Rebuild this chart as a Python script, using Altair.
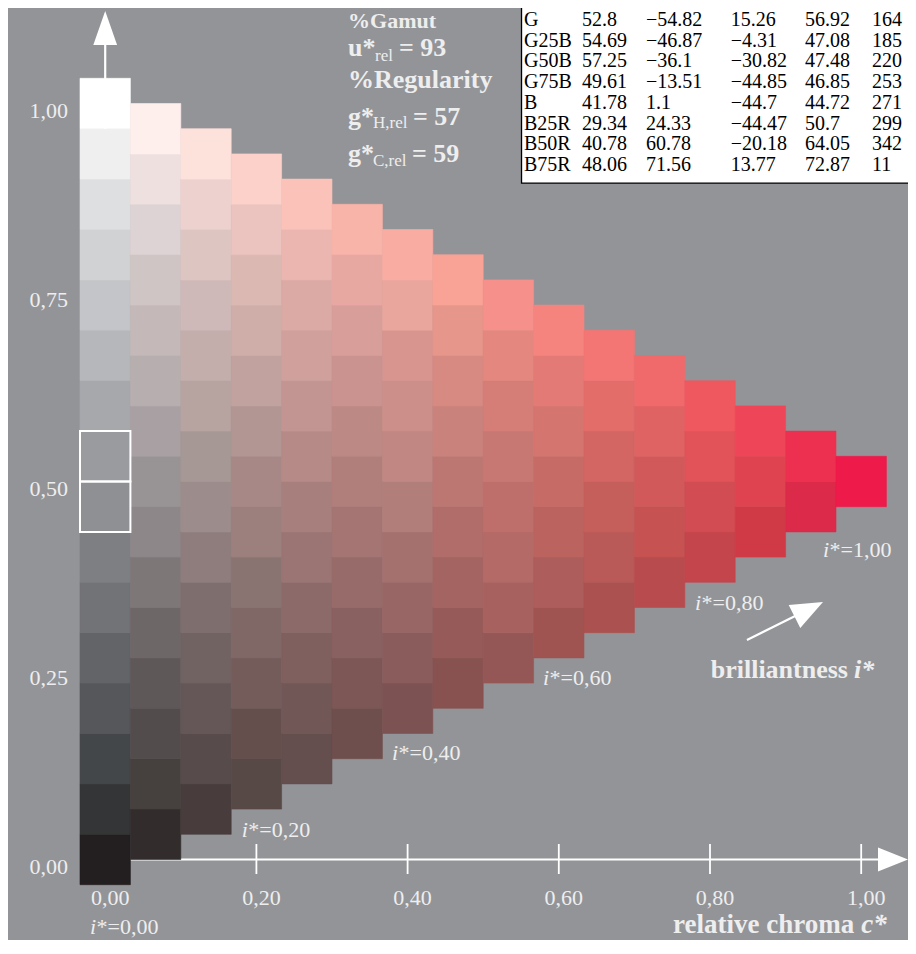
import altair as alt
import pandas as pd

# ---------------- values ----------------
# colour of every cell, one list per column j (relative chroma c* = j/15), bottom cell first
col00 = ["#231f20", "#343536", "#44474a", "#55575a", "#636468", "#727377", "#7e7f83", "#8f9094",
         "#9a9b9f", "#a7a8ac", "#b6b7ba", "#c4c5c8", "#d1d2d4", "#dedfe1", "#efefef", "#ffffff"]
col01 = ["#322c2d", "#46403f", "#534c4c", "#5f5859", "#6e6768", "#7d7778", "#8d8789", "#989394",
         "#a9a0a3", "#b6aeaf", "#c4b8b8", "#d0c5c5", "#ded3d4", "#efe0e0", "#feefec"]
col02 = ["#483c3c", "#574b4b", "#655757", "#726363", "#7f6e6e", "#8e7d7c", "#9c8d8c", "#a69895",
         "#b7a4a1", "#c3aeac", "#cfb9b8", "#ddc5c2", "#edd1ce", "#fde1db"]
col03 = ["#574946", "#654f4d", "#735c5a", "#7f6866", "#8a7472", "#9b807e", "#a88886", "#b29693",
         "#c1a29f", "#cfaeaa", "#dcb8b2", "#ebc3bf", "#fcd1c9"]
col04 = ["#654e4e", "#725757", "#7f605f", "#8c6a69", "#9a7573", "#a7807d", "#b58a87", "#c29592",
         "#cfa09c", "#dcaaa5", "#ebb6b0", "#fac2b9"]
col05 = ["#6f4e4e", "#7c5756", "#896160", "#976b69", "#a47573", "#b07e7b", "#bd8985", "#ca938f",
         "#d89e99", "#e8a8a2", "#f8b4a9"]
col06 = ["#7c5253", "#8a5c5c", "#986665", "#a5716e", "#b27e7a", "#c18782", "#cc8f89", "#d89590",
         "#e9a69c", "#f9ada2"]
col07 = ["#885250", "#965b59", "#a46462", "#b06d6a", "#bc7773", "#ca837c", "#d68a82", "#e6968a",
         "#f9a296"]
col08 = ["#955755", "#a76260", "#b46a67", "#be6f6b", "#c87873", "#d57d77", "#e4877e", "#f5918a"]
col09 = ["#a05452", "#ad5d5b", "#bb645f", "#c76b67", "#d57570", "#e47a75", "#f5847f"]
col10 = ["#ab514f", "#b95a58", "#c55f5c", "#d36562", "#e36d69", "#f47674"]
col11 = ["#b84b4e", "#c65352", "#d2595a", "#e06363", "#f06a6c"]
col12 = ["#c4454b", "#d24c53", "#e15259", "#f05860"]
col13 = ["#d03a47", "#de434f", "#ee4658"]
col14 = ["#dc2a4a", "#ee3050"]
col15 = ["#ee1a4a"]
columns = [col00, col01, col02, col03, col04, col05, col06, col07,
           col08, col09, col10, col11, col12, col13, col14, col15]
steps = 15

# axis ticks and their labels
y_ticks = [0.0, 0.25, 0.5, 0.75, 1.0]
y_tick_labels = ["0,00", "0,25", "0,50", "0,75", "1,00"]
x_ticks = [0.0, 0.2, 0.4, 0.6, 0.8, 1.0]
x_tick_labels = ["0,00", "0,20", "0,40", "0,60", "0,80", "1,00"]

# brilliantness labels  i*=...
istar_text = ["*=0,00", "*=0,20", "*=0,40", "*=0,60", "*=0,80", "*=1,00"]
istar_c = [-0.0201, 0.1806, 0.3794, 0.5791, 0.7802, 0.9495]
istar_t = [-0.0985, 0.0298, 0.1316, 0.2308, 0.3300, 0.4001]

# marked cells in the grey column (rows from the bottom)
marked_rows = [7, 8]

# table (top right)
tab_names = ["G", "G25B", "G50B", "G75B", "B", "B25R", "B50R", "B75R"]
tab_L = ["52.8", "54.69", "57.25", "49.61", "41.78", "29.34", "40.78", "48.06"]
tab_a = ["−54.82", "−46.87", "−36.1", "−13.51", "1.1", "24.33", "60.78", "71.56"]
tab_b = ["15.26", "−4.31", "−30.82", "−44.85", "−44.7", "−44.47", "−20.18", "13.77"]
tab_C = ["56.92", "47.08", "47.48", "46.85", "44.72", "50.7", "64.05", "72.87"]
tab_h = ["164", "185", "220", "253", "271", "299", "342", "11"]
tab_col_c = [0.5540, 0.6307, 0.7153, 0.8274, 0.9257, 1.0143]
tab_row_t = [1.1025, 1.0751, 1.0478, 1.0204, 0.9930, 0.9656, 0.9382, 0.9109]

# ---------------- layout / style ----------------
W, H = 900, 932
BG = "#939498"
FG = "#eeeeee"
SERIF = "Liberation Serif"
XS = alt.Scale(domain=[-0.128571, 1.061905], nice=False, zero=False)
YS = alt.Scale(domain=[-0.106481, 1.126323], nice=False, zero=False)


def pos():
    return dict(x=alt.X("x:Q", scale=XS, axis=None), y=alt.Y("y:Q", scale=YS, axis=None))


def text_layer(xv, yv, tv, size, color=FG, weight="normal", style="normal", align="left", dx=0, dy=0):
    df = pd.DataFrame({"x": xv, "y": yv, "text": tv})
    return alt.Chart(df).mark_text(
        font=SERIF, fontSize=size, fontWeight=weight, fontStyle=style, align=align,
        baseline="alphabetic", color=color, dx=dx, dy=dy
    ).encode(text="text:N", **pos())


def rule_layer(x, y, x2, y2, width, color="white"):
    df = pd.DataFrame({"x": x, "y": y, "x2": x2, "y2": y2})
    return alt.Chart(df).mark_rule(color=color, strokeWidth=width).encode(
        x2="x2:Q", y2="y2:Q", **pos())


def head_layer(x, y, shape, size, angle):
    df = pd.DataFrame({"x": [x], "y": [y]})
    return alt.Chart(df).mark_point(
        shape=shape, size=size, angle=angle, filled=True, color="white", opacity=1, strokeWidth=0
    ).encode(**pos())


# cells of the triangle
half = 1 / (2 * steps)
recs = []
for j, col in enumerate(columns):
    c = j / steps
    for k, hexc in enumerate(col):
        t = (k + j / 2) / steps
        recs.append({"x": c - half, "x2": c + half, "y": t - half, "y2": t + half, "color": hexc})
cells_df = pd.DataFrame(recs)
cells = alt.Chart(cells_df).mark_rect(strokeWidth=0.6).encode(
    x2="x2:Q", y2="y2:Q",
    color=alt.Color("color:N", scale=None),
    stroke=alt.Stroke("color:N", scale=None),
    **pos())

box_df = pd.DataFrame([{"x": -half, "x2": half, "y": r / steps - half, "y2": r / steps + half}
                       for r in marked_rows])
boxes = alt.Chart(box_df).mark_rect(filled=False, stroke="white", strokeWidth=2).encode(
    x2="x2:Q", y2="y2:Q", **pos())

# table background
tab_bg = alt.Chart(pd.DataFrame({"x": [0.5507], "x2": [1.25], "y": [0.8948], "y2": [1.25]})).mark_rect(
    fill="white", stroke="black", strokeWidth=1.3).encode(x2="x2:Q", y2="y2:Q", **pos())
tab_layers = []
for ci, colvals in enumerate([tab_names, tab_L, tab_a, tab_b, tab_C, tab_h]):
    tab_layers.append(text_layer([tab_col_c[ci]] * len(colvals), tab_row_t, colvals, 20, color="black"))

# axes drawn as rules
x_axis = rule_layer([0.0], [0.0], [1.03], [0.0], 2)
y_axis = rule_layer([0.0], [0.95], [0.0], [1.08], 2.2)
x_tick_rules = rule_layer(x_ticks[1:], [-0.0192] * 5, x_ticks[1:], [0.0205] * 5, 1.8)
up_head = head_layer(0.0, 1.1000, "M0,-1L0.7,1L-0.7,1Z", 1156, 0)
right_head = head_layer(1.0421, 0.0, "M0,-1L0.8,1L-0.8,1Z", 900, 90)
diag_line = rule_layer([0.8489], [0.2903], [0.9306], [0.3310], 2.2)
diag_head = head_layer(0.9306, 0.3310, "M0,-1L0.8,1L-0.8,1Z", 1024, 63)

ylabels = text_layer([-0.0492] * 5, y_ticks, y_tick_labels, 22, align="right", dy=14)
xlabels = text_layer([v + 0.0066 for v in x_ticks], [-0.0601] * 6, x_tick_labels, 22, align="center")
istar_i = text_layer(istar_c, istar_t, ["i"] * 6, 22, style="italic")
istar_rest = text_layer(istar_c, istar_t, istar_text, 22, dx=6.5)

gamut = text_layer([0.3212], [1.0999], ["%Gamut"], 22, weight="bold")
bold_txt = text_layer(
    [0.3212, 0.3886, 0.3212, 0.3212, 0.4071, 0.3212, 0.4058],
    [1.0628, 1.0628, 1.0205, 0.9716, 0.9716, 0.9226, 0.9226],
    ["u*", "= 93", "%Regularity", "g*", "= 57", "g*", "= 59"],
    26, weight="bold")
bold_right = text_layer([0.9825], [0.2401], ["brilliantness"], 26, weight="bold", align="right")
bold_it = text_layer([0.9905], [0.2401], ["i*"], 26, weight="bold", style="italic")
chroma_txt = text_layer([0.7511], [-0.0972], ["relative chroma"], 27, weight="bold")
chroma_it = text_layer([1.0000], [-0.0972], ["c*"], 27, weight="bold", style="italic")
subs = text_layer([0.3569, 0.3542, 0.3542], [1.0562, 0.9676, 0.9173], ["rel", "H,rel", "C,rel"], 17)

layers = [tab_bg] + tab_layers + [x_axis, y_axis, x_tick_rules, cells, boxes, up_head, right_head,
                                  diag_line, diag_head, ylabels, xlabels, istar_i, istar_rest,
                                  gamut, bold_txt, bold_right, bold_it, chroma_txt, chroma_it, subs]

chart = alt.layer(*layers).properties(
    width=W, height=H, background=BG, padding=0,
    autosize=alt.AutoSizeParams(type="none")
).configure_view(strokeWidth=0)

chart.save("out.html", embed_options={"renderer": "svg", "actions": False})
